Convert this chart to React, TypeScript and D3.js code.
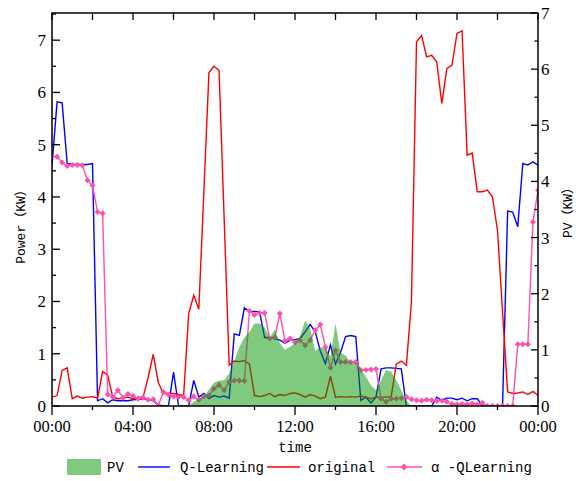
import React from 'react';
import * as d3 from 'd3';

// 15-minute samples from 00:00 to 24:00 (97 points)
const timeLabels = ['00:00', '04:00', '08:00', '12:00', '16:00', '20:00', '00:00'];
const leftTicks = [0, 1, 2, 3, 4, 5, 6, 7];
const rightTicks = [0, 1, 2, 3, 4, 5, 6, 7];

const pv = [
  0, 0, 0, 0, 0, 0, 0, 0, 0, 0,
  0, 0, 0, 0, 0, 0, 0, 0, 0, 0,
  0, 0, 0, 0, 0, 0, 0, 0, 0.08, 0.12,
  0.18, 0.29, 0.42, 0.45, 0.46, 0.58, 0.8, 1.05, 1.22, 1.32,
  1.47, 1.47, 1.4, 1.22, 1.36, 1.12, 1.0, 1.05, 1.12, 1.25,
  1.52, 1.38, 0.98, 1.05, 1.02, 0.88, 1.47, 0.95, 0.9, 0.78,
  0.76, 0.67, 0.52, 0.37, 0.28, 0.46, 0.64, 0.61, 0.46, 0.28,
  0.1, 0, 0, 0, 0, 0, 0, 0, 0, 0,
  0, 0, 0, 0, 0, 0, 0, 0, 0, 0,
  0, 0, 0, 0, 0, 0, 0,
];

const qLearning = [
  4.6, 5.82, 5.8, 4.64, 4.62, 4.62, 4.62, 4.62, 4.64, 0.1,
  0.14, 0.06, 0.12, 0.1, 0.1, 0.1, 0.12, 0.13, 0.14, 0.13,
  0.1, 0.02, 0, 0, 0.65, 0, 0, 0, 0.49, 0.17,
  0.24, 0.14, 0.2, 0.17, 0.19, 0.15, 1.38, 1.35, 1.88, 1.8,
  1.81, 1.8, 1.31, 1.31, 1.29, 1.26, 1.2, 1.26, 1.27, 1.29,
  1.42, 1.56, 1.42, 1.05, 0.81, 1.17, 0.8, 1.03, 1.33, 1.35,
  1.33, 0.11, 0.17, 0.06, 0.17, 0.71, 0.73, 0.73, 0.72, 0.71,
  0, 0, 0, 0, 0, 0, 0.17, 0.11, 0.15, 0.15,
  0.12, 0.15, 0.1, 0.14, 0.14, 0, 0, 0, 0, 0,
  3.73, 3.71, 3.43, 4.64, 4.61, 4.67, 4.61,
];

const original = [
  0.17, 0.2, 0.68, 0.73, 0.14, 0.19, 0.15, 0.17, 0.18, 0.15,
  0.66, 0.59, 0.17, 0.14, 0.15, 0.17, 0.14, 0.17, 0.17, 0.55,
  0.99, 0.45, 0.24, 0.24, 0.24, 0.22, 0.2, 1.77, 2.12, 1.85,
  4.1, 6.38, 6.5, 6.42, 3.6, 0.78, 0.86, 0.85, 0.87, 0.8,
  0.2, 0.18, 0.2, 0.24, 0.18, 0.22, 0.2, 0.24, 0.25, 0.22,
  0.17, 0.22, 0.19, 0.14, 0.17, 0.57, 0.17, 0.18, 0.17, 0.18,
  0.17, 0.19, 0.17, 0.14, 0.17, 0.17, 0.17, 0.18, 0.8, 0.86,
  0.78, 2.0, 6.97, 7.09, 6.68, 6.71, 6.58, 5.79, 6.46, 6.52,
  7.13, 7.18, 4.8, 4.84, 4.1, 4.1, 4.13, 4.0, 3.36, 1.8,
  0.27, 0.24, 0.25, 0.27, 0.22, 0.28, 0.2,
];

const alphaQ = [
  4.78, 4.77, 4.66, 4.59, 4.61, 4.61, 4.6, 4.32, 4.22, 3.71,
  3.69, 0.22, 0.17, 0.3, 0.16, 0.23, 0.19, 0.14, 0.16, 0.12,
  0.13, 0.01, 0.27, 0.22, 0.18, 0.17, 0.17, 0.11, 0.18, 0.12,
  0.18, 0.2, 0.33, 0.4, 0.3, 0.46, 0.49, 0.49, 0.48, 1.82,
  1.74, 1.78, 1.78, 1.29, 1.31, 1.77, 1.25, 1.29, 1.22, 1.26,
  1.16, 1.26, 1.45, 1.56, 1.13, 0.73, 1.06, 0.84, 0.84, 0.84,
  0.84, 0.69, 0.69, 0.7, 0.71, 0.14, 0.08, 0.14, 0.14, 0.15,
  0.17, 0.13, 0.11, 0.1, 0.12, 0.11, 0.1, 0.1, 0.08, 0.04,
  0.03, 0.04, 0.03, 0.05, 0.03, 0.06, 0, 0, 0, 0,
  0, 0, 1.18, 1.18, 1.18, 3.52, 4.13,
];

const W = 576;
const H = 481;
const PL = 52, PR = 538, PT = 13, PB = 406;

const BLUE = '#0000ff';
const RED = '#ff0000';
const PINK = '#ff50aa';
const GREEN = 'rgb(0,150,0)';
const MONO = '"Liberation Mono", "Noto Sans CJK SC", monospace';
const SERIF = '"Liberation Serif", "Times New Roman", serif';

export default function App() {
  const n = pv.length;
  const x = d3.scaleLinear().domain([0, n - 1]).range([PL, PR]);
  const yL = d3.scaleLinear().domain([0, 7.52]).range([PB, PT]);
  const yR = d3.scaleLinear().domain([0, 7]).range([PB, PT]);

  const lineL = d3.line<number>().x((_, i) => x(i)).y((d) => yL(d));
  const areaPV = d3.area<number>().x((_, i) => x(i)).y0(yR(0)).y1((d) => yR(d));

  const hourTicks = d3.range(0, n, 8); // every 2 hours
  const diamond = (cx: number, cy: number, r: number) =>
    `M${cx},${cy - r}L${cx + r},${cy}L${cx},${cy + r}L${cx - r},${cy}Z`;

  const leftMinor = d3.range(0.5, 7.6, 1);
  const rightMinor = d3.range(0.5, 7, 1);

  return (
    <svg width={W} height={H} style={{ position: 'absolute', left: 0, top: 0, background: '#fff' }}>
      <defs>
        <clipPath id="plotClip">
          <rect x={PL} y={PT} width={PR - PL} height={PB - PT} />
        </clipPath>
      </defs>
      <rect x={0} y={0} width={W} height={H} fill="#fff" />
      <g clipPath="url(#plotClip)">
        <path d={lineL(qLearning) || ''} fill="none" stroke={BLUE} strokeWidth={1.4} />
        <path d={lineL(original) || ''} fill="none" stroke={RED} strokeWidth={1.4} />
        <path d={lineL(alphaQ) || ''} fill="none" stroke={PINK} strokeWidth={1.4} />
        {alphaQ.map((d, i) => (
          <path key={i} d={diamond(x(i), yL(d), 3)} fill={PINK} />
        ))}
        <path d={areaPV(pv) || ''} fill={GREEN} fillOpacity={0.5} stroke="none" />
      </g>

      {/* frame */}
      <rect x={PL} y={PT} width={PR - PL} height={PB - PT} fill="none" stroke="#000" strokeWidth={1.5} />

      {/* top ticks (inward) */}
      {hourTicks.map((t) => (
        <line key={'tt' + t} x1={x(t)} x2={x(t)} y1={PT} y2={PT + 7} stroke="#000" strokeWidth={1.3} />
      ))}
      {/* bottom ticks (outward) */}
      {hourTicks.map((t) => (
        <line key={'bt' + t} x1={x(t)} x2={x(t)} y1={PB} y2={PB + (t % 16 === 0 ? 9 : 4)} stroke="#000" strokeWidth={1.3} />
      ))}
      {timeLabels.map((lab, k) => (
        <text key={'xl' + k} x={x(k * 16)} y={432} textAnchor="middle" fontFamily={SERIF} fontSize={16.5} fill="#000">
          {lab}
        </text>
      ))}

      {/* left axis */}
      {leftTicks.map((v) => (
        <g key={'lt' + v}>
          <line x1={PL} x2={PL + 8} y1={yL(v)} y2={yL(v)} stroke="#000" strokeWidth={1.3} />
          <text x={46} y={yL(v)} dy="0.35em" textAnchor="end" fontFamily={SERIF} fontSize={17} fill="#000">
            {v}
          </text>
        </g>
      ))}
      {leftMinor.map((v) => (
        <line key={'lm' + v} x1={PL} x2={PL + 4} y1={yL(v)} y2={yL(v)} stroke="#000" strokeWidth={1.3} />
      ))}

      {/* right axis */}
      {rightTicks.map((v) => (
        <g key={'rt' + v}>
          <line x1={PR} x2={PR - 7} y1={yR(v)} y2={yR(v)} stroke="#000" strokeWidth={1.3} />
          <text x={541} y={yR(v)} dy="0.35em" textAnchor="start" fontFamily={SERIF} fontSize={17} fill="#000">
            {v}
          </text>
        </g>
      ))}
      {rightMinor.map((v) => (
        <line key={'rm' + v} x1={PR} x2={PR - 3.5} y1={yR(v)} y2={yR(v)} stroke="#000" strokeWidth={1.3} />
      ))}

      {/* axis titles */}
      <text x={295} y={452} textAnchor="middle" fontFamily={MONO} fontSize={14} fill="#000">time</text>
      <text transform={`translate(25,${(PT + PB) / 2 + 14}) rotate(-90)`} textAnchor="middle" fontFamily={MONO} fontSize={13} fill="#000">
        Power（KW）
      </text>
      <text transform={`translate(572,${(PT + PB) / 2}) rotate(-90)`} textAnchor="middle" fontFamily={MONO} fontSize={13} fill="#000">
        PV（KW）
      </text>

      {/* legend */}
      <g>
        <rect x={67} y={459} width={34} height={16} fill={GREEN} fillOpacity={0.5} />
        <text x={107} y={472} fontFamily={MONO} fontSize={14} fill="#000">PV</text>
        <line x1={138} x2={170} y1={467} y2={467} stroke={BLUE} strokeWidth={1.4} />
        <text x={180} y={472} fontFamily={MONO} fontSize={14} fill="#000">Q-Learning</text>
        <line x1={267} x2={300} y1={467} y2={467} stroke={RED} strokeWidth={1.4} />
        <text x={308} y={472} fontFamily={MONO} fontSize={14} fill="#000">original</text>
        <line x1={387} x2={422} y1={467} y2={467} stroke={PINK} strokeWidth={1.4} />
        <path d={diamond(404, 467, 3.5)} fill={PINK} />
        <text x={431} y={472} fontFamily={MONO} fontSize={14} fill="#000">α -QLearning</text>
      </g>
    </svg>
  );
}
